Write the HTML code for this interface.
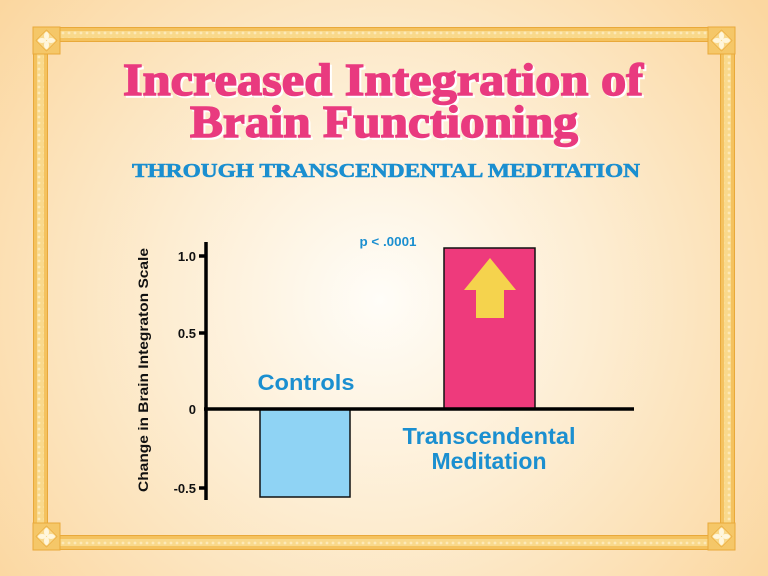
<!DOCTYPE html>
<html><head><meta charset="utf-8"><style>html,body{margin:0;padding:0;width:768px;height:576px;overflow:hidden}</style></head>
<body>
<svg width="768" height="576" viewBox="0 0 768 576" xmlns="http://www.w3.org/2000/svg">
<defs>
<radialGradient id="bg" cx="380" cy="300" r="480" gradientUnits="userSpaceOnUse">
<stop offset="0" stop-color="#fffdf8"/><stop offset="0.45" stop-color="#fdedd2"/><stop offset="1" stop-color="#fbd7a0"/>
</radialGradient>
<pattern id="dots" x="0" y="0" width="6" height="6" patternUnits="userSpaceOnUse"><circle cx="3" cy="3" r="1.4" fill="#fde9b8"/></pattern>
</defs>
<rect width="768" height="576" fill="url(#bg)"/>
<g fill="#f4c25f">
<rect x="33" y="27" width="702" height="15"/>
<rect x="33" y="535" width="702" height="15"/>
<rect x="33" y="27" width="15" height="523"/>
<rect x="720" y="27" width="15" height="523"/>
</g>
<g fill="#f9d98c">
<rect x="36" y="31" width="696" height="7"/>
<rect x="36" y="539" width="696" height="7"/>
<rect x="37" y="30" width="7" height="517"/>
<rect x="724" y="30" width="7" height="517"/>
</g>
<g fill="url(#dots)">
<rect x="36" y="31" width="696" height="7"/>
<rect x="36" y="539" width="696" height="7"/>
<rect x="37" y="30" width="7" height="517"/>
<rect x="724" y="30" width="7" height="517"/>
</g>
<g stroke="#e9a93a" stroke-width="1" fill="none">
<rect x="33.5" y="27.5" width="701" height="522"/>
<rect x="47.5" y="41.5" width="673" height="494"/>
</g>
<g id="c">
<rect x="33" y="27" width="27" height="27" fill="#f5c768" stroke="#e9a93a"/>
<path d="M46.5 30 L57 40.5 L46.5 51 L36 40.5Z" fill="#f9d98c" stroke="#e9a93a" stroke-width="0.7"/>
<ellipse cx="46.5" cy="36" rx="2.5" ry="4" fill="#fff6dc"/><ellipse cx="46.5" cy="45" rx="2.5" ry="4" fill="#fff6dc"/>
<ellipse cx="42" cy="40.5" rx="4" ry="2.5" fill="#fff6dc"/><ellipse cx="51" cy="40.5" rx="4" ry="2.5" fill="#fff6dc"/>
</g>
<use href="#c" transform="translate(675,0)"/>
<use href="#c" transform="translate(0,496)"/>
<use href="#c" transform="translate(675,496)"/>
<g font-family="Liberation Serif, serif" font-weight="bold" text-anchor="middle">
<g fill="#ffffff" stroke="#ffffff" stroke-width="1.5" transform="translate(2,2)">
<text x="383" y="95" font-size="46" textLength="520" lengthAdjust="spacingAndGlyphs">Increased Integration of</text>
<text x="384" y="137" font-size="46" textLength="388" lengthAdjust="spacingAndGlyphs">Brain Functioning</text>
</g>
<g fill="#e93a7f" stroke="#e93a7f" stroke-width="1.5">
<text x="383" y="95" font-size="46" textLength="520" lengthAdjust="spacingAndGlyphs">Increased Integration of</text>
<text x="384" y="137" font-size="46" textLength="388" lengthAdjust="spacingAndGlyphs">Brain Functioning</text>
</g>
<text x="386" y="177" font-size="20" fill="#1b8fd0" stroke="#1b8fd0" stroke-width="0.6" textLength="508" lengthAdjust="spacingAndGlyphs">THROUGH TRANSCENDENTAL MEDITATION</text>
</g>
<rect x="260" y="409" width="90" height="88" fill="#8fd3f4" stroke="#111" stroke-width="1.5"/>
<rect x="444" y="248" width="91" height="161" fill="#ee3a7c" stroke="#111" stroke-width="1.5"/>
<path d="M490 258 L516 290 L504 290 L504 318 L476 318 L476 290 L464 290Z" fill="#f5d34d"/>
<g stroke="#000" stroke-width="3.5">
<line x1="206" y1="242" x2="206" y2="500"/>
<line x1="204" y1="409" x2="634" y2="409"/>
<line x1="199" y1="256" x2="206" y2="256"/>
<line x1="199" y1="333" x2="206" y2="333"/>
<line x1="199" y1="488" x2="206" y2="488"/>
</g>
<g font-family="Liberation Sans, sans-serif" font-weight="bold" fill="#111" font-size="13" text-anchor="end">
<text x="196" y="261">1.0</text>
<text x="196" y="338">0.5</text>
<text x="196" y="414">0</text>
<text x="196" y="493">-0.5</text>
<text transform="translate(148,370) rotate(-90)" text-anchor="middle" font-size="14" textLength="244" lengthAdjust="spacingAndGlyphs">Change in Brain Integraton Scale</text>
</g>
<g font-family="Liberation Sans, sans-serif" font-weight="bold" fill="#1b8fd0" text-anchor="middle">
<text x="388" y="246" font-size="13" textLength="57" lengthAdjust="spacingAndGlyphs">p &lt; .0001</text>
<text x="306" y="390" font-size="22" textLength="97" lengthAdjust="spacingAndGlyphs">Controls</text>
<text x="489" y="444" font-size="23" textLength="173" lengthAdjust="spacingAndGlyphs">Transcendental</text>
<text x="489" y="469" font-size="23">Meditation</text>
</g>
</svg>
</body></html>
